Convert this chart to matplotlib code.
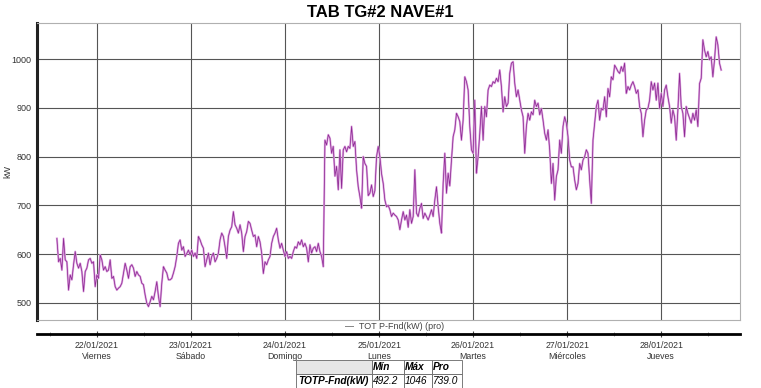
import numpy as np
import pandas as pd
import matplotlib
matplotlib.use('Agg')
import matplotlib.pyplot as plt
import matplotlib.dates as mdates

plt.rcParams['font.family'] = ['Liberation Sans', 'DejaVu Sans']

# potencia activa total (kW), muestras cada 25.5 min desde 21/01 13:45
kw_viernes = [632, 584, 591, 567, 632, 588, 584, 526, 557, 547, 578, 605, 581, 571, 581, 564,
              523, 564, 571, 588, 591, 581, 584, 533, 557, 550, 598, 588, 567, 574, 564, 567,
              588, 550, 554, 533, 526, 530, 533, 540, 561, 581, 567, 550, 574, 578, 571, 554,
              564, 557, 554, 540, 537, 516, 499, 492, 502, 513, 506, 523, 543, 513, 492, 540,
              574, 567, 561, 547, 547, 550, 561, 574, 595, 622, 629, 608, 615, 595, 601, 608,
              598]
kw_sabado = [608, 595, 602, 591, 636, 629, 619, 612, 574, 588, 602, 578, 595, 602, 584, 591,
             602, 629, 643, 636, 615, 591, 636, 649, 656, 687, 660, 653, 643, 660, 643, 605,
             636, 646, 667, 663, 649, 636, 639, 615, 636, 625, 602, 560, 584, 578, 588, 595,
             622, 636, 643, 653, 629, 612, 622, 608, 595, 605, 591, 595, 591, 605, 615, 612,
             625, 619, 629, 615, 622, 612, 584, 619, 602, 612, 615, 605, 622, 605, 595, 574]
kw_lunes = [834, 824, 845, 838, 807, 821, 760, 780, 732, 814, 735, 814, 821, 810, 821, 817,
            862, 821, 831, 773, 738, 718, 694, 800, 786, 780, 720, 725, 742, 718, 730, 800,
            821, 800, 765, 745, 711, 697, 700, 691, 677, 684, 680, 677, 670, 650, 670, 687,
            670, 680, 655, 691, 663, 677, 773, 684, 677, 694, 704, 673, 684, 677, 670, 680,
            691, 677, 711, 738, 697, 663, 643, 745, 807, 725, 766, 740, 793, 841, 855]
kw_martes = [889, 882, 872, 834, 875, 964, 954, 937, 862, 814, 807, 916, 766, 800, 848, 903,
             834, 903, 882, 937, 947, 944, 954, 951, 961, 954, 978, 944, 892, 923, 903, 910,
             971, 992, 995, 951, 923, 937, 916, 896, 882, 807, 862, 889, 875, 892, 886, 916,
             903, 910, 886, 899, 875, 848, 834, 855, 814, 745, 786, 711, 759, 773, 834, 807,
             862, 882, 869, 841, 793, 779, 779, 752, 732, 745, 786, 773, 793, 800, 814, 807,
             752]
kw_jueves = [704, 834, 869, 903, 916, 875, 899, 896, 923, 882, 940, 923, 964, 958, 988, 982,
             975, 971, 985, 975, 992, 930, 944, 937, 947, 954, 944, 930, 937, 903, 889, 841,
             875, 896, 899, 916, 954, 937, 951, 916, 951, 899, 930, 903, 937, 947, 923, 903,
             869, 896, 882, 834, 896, 971, 903, 889, 841, 903, 889, 879, 869, 889, 875, 896,
             862, 950, 961, 1040, 1019, 1005, 1016, 999, 1005, 964, 999, 1046, 1030, 992, 978]

kw = kw_viernes + kw_sabado + kw_lunes + kw_martes + kw_jueves
t = pd.date_range('2021-01-21 13:45', periods=len(kw), freq='1530s')

day_ticks = pd.date_range('2021-01-22', '2021-01-28', freq='D')
day_names = ['Viernes', 'Sábado', 'Domingo', 'Lunes', 'Martes', 'Miércoles', 'Jueves']
y_ticks = [500, 600, 700, 800, 900, 1000]

stats_cols = ['', 'Mín', 'Máx', 'Pro']
stats_row = ['TOTP-Fnd(kW)', '492.2', '1046', '739.0']

x0, x1 = pd.Timestamp('2021-01-21 08:40'), pd.Timestamp('2021-01-28 20:10')

fig = plt.figure(figsize=(7.61, 3.88), dpi=100)
ax = fig.add_axes([0.0486, 0.1753, 0.924, 0.766])

ax.plot(t, kw, color='#dea6e0', lw=1.5)
ax.plot(t, kw, color='#8e2a94', lw=0.55)

ax.set_xlim(x0, x1)
ax.set_ylim(464.5, 1075)
ax.set_yticks(y_ticks)
ax.set_xticks(day_ticks)
ax.set_xticklabels([])
ax.grid(True, color='#555555', lw=0.8)
ax.tick_params(length=0, labelsize=6.5, labelcolor='#333333', pad=4)
for s in ['top', 'right', 'bottom']:
    ax.spines[s].set_color('#b0b0b0')
    ax.spines[s].set_linewidth(0.8)
ax.spines['left'].set_linewidth(2.2)
ax.spines['left'].set_color('#222222')
fig.text(8 / 761, 0.557, 'kW', rotation=90, ha='center', va='center',
         fontsize=6.5, color='#333333')

fig.text(0.5, 0.969, 'TAB TG#2 NAVE#1', ha='center', va='center',
         fontsize=12, fontweight='bold')

# leyenda
fig.text(0.518, 0.158, '—  TOT P-Fnd(kW) (pro)', ha='center', va='center',
         fontsize=6.5, color='#444444')

# eje de fechas
axd = fig.add_axes([0.0486, 0.139, 0.924, 0.0001])
axd.set_xlim(x0, x1)
axd.set_yticks([])
for s in ['top', 'right', 'left']:
    axd.spines[s].set_visible(False)
axd.spines['bottom'].set_linewidth(2)
axd.set_xticks(day_ticks)
axd.set_xticklabels([f'{d:%d/%m/%Y}\n{n}' for d, n in zip(day_ticks, day_names)],
                    fontsize=6.3, color='#333333', linespacing=1.3)
axd.xaxis.set_minor_locator(mdates.HourLocator(byhour=[12]))
axd.tick_params(which='major', length=4, direction='inout', pad=3, color='#444444')
axd.tick_params(which='minor', length=3, direction='inout', color='#888888')

# tabla de resumen
axt = fig.add_axes([296 / 761, 0.0, 166 / 761, 28 / 388])
axt.axis('off')
tab = axt.table(cellText=[stats_cols, stats_row], bbox=[0, 0, 1, 1],
                colWidths=[76, 32, 28, 30], cellLoc='left')
tab.auto_set_font_size(False)
for (r, c), cell in tab.get_celld().items():
    cell.set_linewidth(0.6)
    cell.set_edgecolor('#666666')
    txt = cell.get_text()
    txt.set_fontsize(7.3)
    txt.set_fontstyle('italic')
    if r == 0 or c == 0:
        txt.set_fontweight('bold')
    if c == 0:
        cell._loc = 'right'
        txt.set_ha('right')
    if r == 0 and c == 0:
        cell.set_facecolor('#e6e6e6')
    cell.PAD = 0.04

fig.savefig('out.png', dpi=100)
